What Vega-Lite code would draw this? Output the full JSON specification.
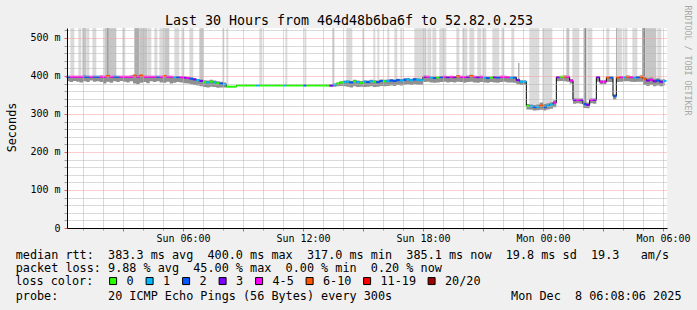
{
  "$schema": "https://vega.github.io/schema/vega-lite/v6.json",
  "width": 600,
  "height": 200,
  "autosize": {"type": "none"},
  "padding": {"left": 67, "top": 28, "right": 30, "bottom": 82},
  "background": "#f0f0f0",
  "config": {"view": {"fill": "white", "stroke": null}, "font": "DejaVu Sans Mono"},
  "resolve": {"axis": {"x": "independent", "y": "independent"}},
  "datasets": {
    "sp": [
      {"s":"2025-12-07T00:22","e":"2025-12-07T00:34","lo":396,"h":526,"k":"L"},
      {"s":"2025-12-07T00:46","e":"2025-12-07T00:55","lo":396,"h":526,"k":"L"},
      {"s":"2025-12-07T00:58","e":"2025-12-07T01:10","lo":396,"h":526,"k":"M"},
      {"s":"2025-12-07T01:10","e":"2025-12-07T01:19","lo":396,"h":526,"k":"L"},
      {"s":"2025-12-07T01:28","e":"2025-12-07T01:40","lo":396,"h":526,"k":"L"},
      {"s":"2025-12-07T02:04","e":"2025-12-07T02:40","lo":396,"h":526,"k":"M"},
      {"s":"2025-12-07T02:13","e":"2025-12-07T02:16","lo":385,"h":526,"k":"D"},
      {"s":"2025-12-07T02:58","e":"2025-12-07T03:07","lo":396,"h":526,"k":"L"},
      {"s":"2025-12-07T03:34","e":"2025-12-07T03:49","lo":390,"h":526,"k":"N"},
      {"s":"2025-12-07T03:49","e":"2025-12-07T04:13","lo":396,"h":526,"k":"M"},
      {"s":"2025-12-07T04:13","e":"2025-12-07T04:25","lo":396,"h":526,"k":"L"},
      {"s":"2025-12-07T04:34","e":"2025-12-07T04:43","lo":396,"h":526,"k":"L"},
      {"s":"2025-12-07T04:49","e":"2025-12-07T05:04","lo":396,"h":526,"k":"L"},
      {"s":"2025-12-07T05:04","e":"2025-12-07T05:19","lo":396,"h":526,"k":"M"},
      {"s":"2025-12-07T05:34","e":"2025-12-07T05:49","lo":396,"h":526,"k":"L"},
      {"s":"2025-12-07T05:55","e":"2025-12-07T06:04","lo":396,"h":526,"k":"L"},
      {"s":"2025-12-07T06:19","e":"2025-12-07T06:31","lo":392,"h":526,"k":"L"},
      {"s":"2025-12-07T06:49","e":"2025-12-07T07:01","lo":386,"h":526,"k":"M"},
      {"s":"2025-12-07T07:58","e":"2025-12-07T08:04","lo":380,"h":526,"k":"L"},
      {"s":"2025-12-07T08:10","e":"2025-12-07T08:16","lo":374,"h":526,"k":"L"},
      {"s":"2025-12-07T09:49","e":"2025-12-07T09:58","lo":376,"h":526,"k":"L"},
      {"s":"2025-12-07T11:07","e":"2025-12-07T11:13","lo":376,"h":526,"k":"L"},
      {"s":"2025-12-07T12:04","e":"2025-12-07T12:10","lo":376,"h":526,"k":"L"},
      {"s":"2025-12-07T13:28","e":"2025-12-07T13:34","lo":376,"h":526,"k":"M"},
      {"s":"2025-12-07T14:10","e":"2025-12-07T14:28","lo":385,"h":526,"k":"L"},
      {"s":"2025-12-07T14:58","e":"2025-12-07T15:04","lo":385,"h":526,"k":"L"},
      {"s":"2025-12-07T15:31","e":"2025-12-07T15:37","lo":385,"h":526,"k":"L"},
      {"s":"2025-12-07T15:43","e":"2025-12-07T15:49","lo":385,"h":526,"k":"L"},
      {"s":"2025-12-07T16:13","e":"2025-12-07T16:19","lo":388,"h":526,"k":"L"},
      {"s":"2025-12-07T16:34","e":"2025-12-07T16:43","lo":388,"h":526,"k":"L"},
      {"s":"2025-12-07T16:52","e":"2025-12-07T16:58","lo":388,"h":526,"k":"L"},
      {"s":"2025-12-07T17:34","e":"2025-12-07T18:04","lo":390,"h":526,"k":"L"},
      {"s":"2025-12-07T18:04","e":"2025-12-07T18:10","lo":396,"h":526,"k":"M"},
      {"s":"2025-12-07T18:13","e":"2025-12-07T18:25","lo":396,"h":526,"k":"L"},
      {"s":"2025-12-07T18:28","e":"2025-12-07T18:40","lo":396,"h":526,"k":"L"},
      {"s":"2025-12-07T18:49","e":"2025-12-07T19:10","lo":396,"h":526,"k":"L"},
      {"s":"2025-12-07T19:40","e":"2025-12-07T19:49","lo":396,"h":526,"k":"L"},
      {"s":"2025-12-07T19:58","e":"2025-12-07T20:13","lo":396,"h":526,"k":"L"},
      {"s":"2025-12-07T20:19","e":"2025-12-07T20:34","lo":396,"h":526,"k":"L"},
      {"s":"2025-12-07T20:43","e":"2025-12-07T20:55","lo":396,"h":526,"k":"L"},
      {"s":"2025-12-07T20:58","e":"2025-12-07T21:10","lo":396,"h":526,"k":"L"},
      {"s":"2025-12-07T21:28","e":"2025-12-07T21:49","lo":396,"h":526,"k":"L"},
      {"s":"2025-12-07T21:55","e":"2025-12-07T22:04","lo":396,"h":526,"k":"L"},
      {"s":"2025-12-07T22:25","e":"2025-12-07T22:34","lo":396,"h":526,"k":"L"},
      {"s":"2025-12-07T22:46","e":"2025-12-07T22:49","lo":392,"h":434,"k":"D"},
      {"s":"2025-12-07T23:19","e":"2025-12-07T23:49","lo":322,"h":526,"k":"L"},
      {"s":"2025-12-07T23:58","e":"2025-12-08T00:28","lo":322,"h":526,"k":"L"},
      {"s":"2025-12-08T01:10","e":"2025-12-08T01:19","lo":396,"h":526,"k":"M"},
      {"s":"2025-12-08T01:28","e":"2025-12-08T01:49","lo":337,"h":526,"k":"L"},
      {"s":"2025-12-08T02:04","e":"2025-12-08T02:10","lo":324,"h":526,"k":"D"},
      {"s":"2025-12-08T02:13","e":"2025-12-08T02:28","lo":337,"h":526,"k":"L"},
      {"s":"2025-12-08T03:10","e":"2025-12-08T03:19","lo":396,"h":526,"k":"L"},
      {"s":"2025-12-08T03:40","e":"2025-12-08T03:43","lo":396,"h":526,"k":"D"},
      {"s":"2025-12-08T03:43","e":"2025-12-08T03:58","lo":396,"h":526,"k":"L"},
      {"s":"2025-12-08T04:04","e":"2025-12-08T04:13","lo":396,"h":526,"k":"L"},
      {"s":"2025-12-08T04:28","e":"2025-12-08T04:43","lo":396,"h":526,"k":"L"},
      {"s":"2025-12-08T04:58","e":"2025-12-08T05:07","lo":390,"h":526,"k":"D"},
      {"s":"2025-12-08T05:07","e":"2025-12-08T05:40","lo":390,"h":526,"k":"M"},
      {"s":"2025-12-08T05:43","e":"2025-12-08T05:55","lo":390,"h":526,"k":"L"}
    ],
    "d": [
      {"t":"2025-12-07T00:15","m":398,"a":386,"b":400,"l":"2"},
      {"t":"2025-12-07T00:25","m":398,"a":384,"b":400,"l":"4-5"},
      {"t":"2025-12-07T00:35","m":398,"a":387,"b":400,"l":"4-5"},
      {"t":"2025-12-07T00:45","m":398,"a":385,"b":400,"l":"4-5"},
      {"t":"2025-12-07T00:55","m":398,"a":383,"b":400,"l":"4-5"},
      {"t":"2025-12-07T01:05","m":398,"a":386,"b":401,"l":"2"},
      {"t":"2025-12-07T01:15","m":398,"a":384,"b":400,"l":"2"},
      {"t":"2025-12-07T01:25","m":398,"a":388,"b":400,"l":"4-5"},
      {"t":"2025-12-07T01:35","m":398,"a":385,"b":400,"l":"2"},
      {"t":"2025-12-07T01:45","m":398,"a":386,"b":400,"l":"2"},
      {"t":"2025-12-07T01:55","m":398,"a":384,"b":401,"l":"4-5"},
      {"t":"2025-12-07T02:05","m":398,"a":380,"b":400,"l":"4-5"},
      {"t":"2025-12-07T02:15","m":400,"a":385,"b":403,"l":"6-10"},
      {"t":"2025-12-07T02:25","m":398,"a":382,"b":400,"l":"4-5"},
      {"t":"2025-12-07T02:35","m":398,"a":386,"b":400,"l":"2"},
      {"t":"2025-12-07T02:45","m":398,"a":384,"b":400,"l":"2"},
      {"t":"2025-12-07T02:55","m":398,"a":387,"b":400,"l":"4-5"},
      {"t":"2025-12-07T03:05","m":398,"a":385,"b":400,"l":"4-5"},
      {"t":"2025-12-07T03:15","m":398,"a":383,"b":400,"l":"4-5"},
      {"t":"2025-12-07T03:25","m":398,"a":386,"b":401,"l":"4-5"},
      {"t":"2025-12-07T03:35","m":401,"a":380,"b":403,"l":"6-10"},
      {"t":"2025-12-07T03:45","m":398,"a":378,"b":400,"l":"4-5"},
      {"t":"2025-12-07T03:55","m":401,"a":382,"b":404,"l":"6-10"},
      {"t":"2025-12-07T04:05","m":398,"a":384,"b":400,"l":"4-5"},
      {"t":"2025-12-07T04:15","m":398,"a":381,"b":400,"l":"4-5"},
      {"t":"2025-12-07T04:25","m":398,"a":386,"b":400,"l":"4-5"},
      {"t":"2025-12-07T04:35","m":398,"a":384,"b":400,"l":"4-5"},
      {"t":"2025-12-07T04:45","m":398,"a":386,"b":400,"l":"2"},
      {"t":"2025-12-07T04:55","m":398,"a":383,"b":400,"l":"4-5"},
      {"t":"2025-12-07T05:05","m":400,"a":382,"b":402,"l":"6-10"},
      {"t":"2025-12-07T05:15","m":398,"a":385,"b":400,"l":"4-5"},
      {"t":"2025-12-07T05:25","m":398,"a":380,"b":400,"l":"4-5"},
      {"t":"2025-12-07T05:35","m":397,"a":382,"b":400,"l":"1"},
      {"t":"2025-12-07T05:45","m":397,"a":384,"b":399,"l":"2"},
      {"t":"2025-12-07T05:55","m":397,"a":383,"b":399,"l":"4-5"},
      {"t":"2025-12-07T06:05","m":396,"a":381,"b":398,"l":"3"},
      {"t":"2025-12-07T06:15","m":395,"a":380,"b":397,"l":"4-5"},
      {"t":"2025-12-07T06:25","m":393,"a":378,"b":396,"l":"2"},
      {"t":"2025-12-07T06:35","m":391,"a":376,"b":394,"l":"3"},
      {"t":"2025-12-07T06:45","m":389,"a":375,"b":392,"l":"1"},
      {"t":"2025-12-07T06:55","m":387,"a":373,"b":391,"l":"3"},
      {"t":"2025-12-07T07:05","m":384,"a":371,"b":389,"l":"0"},
      {"t":"2025-12-07T07:15","m":383,"a":370,"b":388,"l":"1"},
      {"t":"2025-12-07T07:25","m":385,"a":372,"b":390,"l":"0"},
      {"t":"2025-12-07T07:35","m":383,"a":371,"b":388,"l":"1"},
      {"t":"2025-12-07T07:45","m":381,"a":369,"b":386,"l":"0"},
      {"t":"2025-12-07T07:55","m":380,"a":370,"b":385,"l":"2"},
      {"t":"2025-12-07T08:05","m":378,"a":370,"b":383,"l":"1"},
      {"t":"2025-12-07T08:15","m":372,"a":371,"b":373,"l":"0"},
      {"t":"2025-12-07T08:25","m":372,"a":371,"b":373,"l":"0"},
      {"t":"2025-12-07T08:35","m":372,"a":371,"b":373,"l":"0"},
      {"t":"2025-12-07T08:45","m":375,"a":374,"b":376,"l":"0"},
      {"t":"2025-12-07T08:55","m":375,"a":374,"b":376,"l":"0"},
      {"t":"2025-12-07T09:05","m":375,"a":374,"b":376,"l":"0"},
      {"t":"2025-12-07T09:15","m":375,"a":374,"b":376,"l":"0"},
      {"t":"2025-12-07T09:25","m":375,"a":374,"b":376,"l":"0"},
      {"t":"2025-12-07T09:35","m":375,"a":374,"b":376,"l":"0"},
      {"t":"2025-12-07T09:45","m":375,"a":374,"b":376,"l":"1"},
      {"t":"2025-12-07T09:55","m":375,"a":374,"b":376,"l":"0"},
      {"t":"2025-12-07T10:05","m":375,"a":374,"b":376,"l":"0"},
      {"t":"2025-12-07T10:15","m":375,"a":374,"b":376,"l":"0"},
      {"t":"2025-12-07T10:25","m":375,"a":374,"b":376,"l":"0"},
      {"t":"2025-12-07T10:35","m":375,"a":374,"b":376,"l":"0"},
      {"t":"2025-12-07T10:45","m":375,"a":374,"b":376,"l":"0"},
      {"t":"2025-12-07T10:55","m":375,"a":374,"b":376,"l":"0"},
      {"t":"2025-12-07T11:05","m":375,"a":374,"b":376,"l":"1"},
      {"t":"2025-12-07T11:15","m":375,"a":374,"b":376,"l":"0"},
      {"t":"2025-12-07T11:25","m":375,"a":374,"b":376,"l":"0"},
      {"t":"2025-12-07T11:35","m":375,"a":374,"b":376,"l":"0"},
      {"t":"2025-12-07T11:45","m":375,"a":374,"b":376,"l":"0"},
      {"t":"2025-12-07T11:55","m":375,"a":374,"b":376,"l":"0"},
      {"t":"2025-12-07T12:05","m":375,"a":374,"b":376,"l":"2"},
      {"t":"2025-12-07T12:15","m":375,"a":374,"b":376,"l":"0"},
      {"t":"2025-12-07T12:25","m":375,"a":374,"b":376,"l":"0"},
      {"t":"2025-12-07T12:35","m":375,"a":374,"b":376,"l":"0"},
      {"t":"2025-12-07T12:45","m":375,"a":374,"b":376,"l":"0"},
      {"t":"2025-12-07T12:55","m":375,"a":374,"b":376,"l":"0"},
      {"t":"2025-12-07T13:05","m":375,"a":374,"b":376,"l":"0"},
      {"t":"2025-12-07T13:15","m":375,"a":373,"b":377,"l":"0"},
      {"t":"2025-12-07T13:25","m":375,"a":372,"b":378,"l":"3"},
      {"t":"2025-12-07T13:35","m":377,"a":372,"b":380,"l":"1"},
      {"t":"2025-12-07T13:45","m":380,"a":373,"b":383,"l":"0"},
      {"t":"2025-12-07T13:55","m":383,"a":374,"b":386,"l":"0"},
      {"t":"2025-12-07T14:05","m":384,"a":373,"b":388,"l":"1"},
      {"t":"2025-12-07T14:15","m":385,"a":372,"b":389,"l":"1"},
      {"t":"2025-12-07T14:25","m":383,"a":370,"b":387,"l":"2"},
      {"t":"2025-12-07T14:35","m":386,"a":373,"b":390,"l":"0"},
      {"t":"2025-12-07T14:45","m":384,"a":371,"b":388,"l":"1"},
      {"t":"2025-12-07T14:55","m":382,"a":372,"b":387,"l":"0"},
      {"t":"2025-12-07T15:05","m":385,"a":371,"b":389,"l":"1"},
      {"t":"2025-12-07T15:15","m":384,"a":372,"b":388,"l":"2"},
      {"t":"2025-12-07T15:25","m":386,"a":373,"b":390,"l":"1"},
      {"t":"2025-12-07T15:35","m":385,"a":371,"b":389,"l":"0"},
      {"t":"2025-12-07T15:45","m":384,"a":372,"b":388,"l":"2"},
      {"t":"2025-12-07T15:55","m":387,"a":374,"b":391,"l":"2"},
      {"t":"2025-12-07T16:05","m":386,"a":373,"b":390,"l":"0"},
      {"t":"2025-12-07T16:15","m":387,"a":374,"b":391,"l":"1"},
      {"t":"2025-12-07T16:25","m":388,"a":375,"b":392,"l":"2"},
      {"t":"2025-12-07T16:35","m":387,"a":374,"b":391,"l":"2"},
      {"t":"2025-12-07T16:45","m":389,"a":376,"b":393,"l":"2"},
      {"t":"2025-12-07T16:55","m":388,"a":375,"b":392,"l":"1"},
      {"t":"2025-12-07T17:05","m":390,"a":377,"b":394,"l":"2"},
      {"t":"2025-12-07T17:15","m":391,"a":378,"b":395,"l":"1"},
      {"t":"2025-12-07T17:25","m":389,"a":376,"b":393,"l":"1"},
      {"t":"2025-12-07T17:35","m":391,"a":378,"b":395,"l":"2"},
      {"t":"2025-12-07T17:45","m":390,"a":377,"b":394,"l":"1"},
      {"t":"2025-12-07T17:55","m":389,"a":377,"b":393,"l":"1"},
      {"t":"2025-12-07T18:05","m":398,"a":384,"b":400,"l":"3"},
      {"t":"2025-12-07T18:15","m":398,"a":385,"b":400,"l":"4-5"},
      {"t":"2025-12-07T18:25","m":396,"a":383,"b":399,"l":"1"},
      {"t":"2025-12-07T18:35","m":395,"a":382,"b":398,"l":"2"},
      {"t":"2025-12-07T18:45","m":396,"a":383,"b":399,"l":"0"},
      {"t":"2025-12-07T18:55","m":397,"a":384,"b":400,"l":"2"},
      {"t":"2025-12-07T19:05","m":398,"a":385,"b":400,"l":"4-5"},
      {"t":"2025-12-07T19:15","m":397,"a":383,"b":400,"l":"3"},
      {"t":"2025-12-07T19:25","m":398,"a":384,"b":400,"l":"4-5"},
      {"t":"2025-12-07T19:35","m":397,"a":383,"b":400,"l":"3"},
      {"t":"2025-12-07T19:45","m":399,"a":385,"b":402,"l":"6-10"},
      {"t":"2025-12-07T19:55","m":398,"a":384,"b":400,"l":"4-5"},
      {"t":"2025-12-07T20:05","m":397,"a":382,"b":400,"l":"4-5"},
      {"t":"2025-12-07T20:15","m":398,"a":384,"b":400,"l":"3"},
      {"t":"2025-12-07T20:25","m":400,"a":385,"b":403,"l":"6-10"},
      {"t":"2025-12-07T20:35","m":398,"a":383,"b":400,"l":"4-5"},
      {"t":"2025-12-07T20:45","m":397,"a":382,"b":400,"l":"3"},
      {"t":"2025-12-07T20:55","m":398,"a":384,"b":400,"l":"4-5"},
      {"t":"2025-12-07T21:05","m":396,"a":383,"b":399,"l":"1"},
      {"t":"2025-12-07T21:15","m":395,"a":382,"b":398,"l":"2"},
      {"t":"2025-12-07T21:25","m":396,"a":384,"b":399,"l":"0"},
      {"t":"2025-12-07T21:35","m":397,"a":383,"b":400,"l":"3"},
      {"t":"2025-12-07T21:45","m":396,"a":382,"b":399,"l":"2"},
      {"t":"2025-12-07T21:55","m":398,"a":384,"b":400,"l":"4-5"},
      {"t":"2025-12-07T22:05","m":398,"a":385,"b":400,"l":"4-5"},
      {"t":"2025-12-07T22:15","m":397,"a":383,"b":400,"l":"4-5"},
      {"t":"2025-12-07T22:25","m":396,"a":383,"b":399,"l":"1"},
      {"t":"2025-12-07T22:35","m":396,"a":382,"b":399,"l":"2"},
      {"t":"2025-12-07T22:45","m":389,"a":378,"b":393,"l":"3"},
      {"t":"2025-12-07T22:55","m":385,"a":376,"b":389,"l":"1"},
      {"t":"2025-12-07T23:05","m":385,"a":377,"b":389,"l":"1"},
      {"t":"2025-12-07T23:15","m":321,"a":312,"b":326,"l":"0"},
      {"t":"2025-12-07T23:25","m":320,"a":311,"b":325,"l":"1"},
      {"t":"2025-12-07T23:35","m":318,"a":309,"b":324,"l":"2"},
      {"t":"2025-12-07T23:45","m":319,"a":310,"b":325,"l":"1"},
      {"t":"2025-12-07T23:55","m":322,"a":311,"b":330,"l":"6-10"},
      {"t":"2025-12-08T00:05","m":318,"a":309,"b":326,"l":"2"},
      {"t":"2025-12-08T00:15","m":322,"a":312,"b":328,"l":"1"},
      {"t":"2025-12-08T00:25","m":325,"a":314,"b":331,"l":"1"},
      {"t":"2025-12-08T00:35","m":330,"a":318,"b":336,"l":"4-5"},
      {"t":"2025-12-08T00:45","m":397,"a":386,"b":400,"l":"3"},
      {"t":"2025-12-08T00:55","m":398,"a":387,"b":400,"l":"0"},
      {"t":"2025-12-08T01:05","m":398,"a":386,"b":401,"l":"6-10"},
      {"t":"2025-12-08T01:15","m":398,"a":385,"b":400,"l":"4-5"},
      {"t":"2025-12-08T01:25","m":388,"a":380,"b":392,"l":"4-5"},
      {"t":"2025-12-08T01:35","m":337,"a":327,"b":341,"l":"3"},
      {"t":"2025-12-08T01:45","m":337,"a":328,"b":341,"l":"4-5"},
      {"t":"2025-12-08T01:55","m":337,"a":327,"b":341,"l":"3"},
      {"t":"2025-12-08T02:05","m":326,"a":316,"b":332,"l":"2"},
      {"t":"2025-12-08T02:15","m":324,"a":315,"b":330,"l":"3"},
      {"t":"2025-12-08T02:25","m":337,"a":328,"b":341,"l":"4-5"},
      {"t":"2025-12-08T02:35","m":337,"a":327,"b":341,"l":"3"},
      {"t":"2025-12-08T02:45","m":397,"a":385,"b":400,"l":"3"},
      {"t":"2025-12-08T02:55","m":385,"a":378,"b":389,"l":"4-5"},
      {"t":"2025-12-08T03:05","m":385,"a":378,"b":389,"l":"4-5"},
      {"t":"2025-12-08T03:15","m":396,"a":384,"b":399,"l":"6-10"},
      {"t":"2025-12-08T03:25","m":396,"a":384,"b":399,"l":"2"},
      {"t":"2025-12-08T03:35","m":347,"a":338,"b":352,"l":"2"},
      {"t":"2025-12-08T03:45","m":396,"a":384,"b":399,"l":"6-10"},
      {"t":"2025-12-08T03:55","m":397,"a":385,"b":400,"l":"4-5"},
      {"t":"2025-12-08T04:05","m":397,"a":386,"b":400,"l":"1"},
      {"t":"2025-12-08T04:15","m":398,"a":386,"b":401,"l":"6-10"},
      {"t":"2025-12-08T04:25","m":397,"a":385,"b":400,"l":"4-5"},
      {"t":"2025-12-08T04:35","m":396,"a":384,"b":399,"l":"1"},
      {"t":"2025-12-08T04:45","m":397,"a":385,"b":400,"l":"2"},
      {"t":"2025-12-08T04:55","m":398,"a":385,"b":401,"l":"6-10"},
      {"t":"2025-12-08T05:05","m":392,"a":376,"b":398,"l":"6-10"},
      {"t":"2025-12-08T05:15","m":388,"a":374,"b":395,"l":"3"},
      {"t":"2025-12-08T05:25","m":390,"a":376,"b":396,"l":"4-5"},
      {"t":"2025-12-08T05:35","m":386,"a":373,"b":393,"l":"3"},
      {"t":"2025-12-08T05:45","m":388,"a":375,"b":394,"l":"2"},
      {"t":"2025-12-08T05:55","m":385,"a":373,"b":391,"l":"3"},
      {"t":"2025-12-08T06:05","m":387,"a":375,"b":392,"l":"1"}
    ]
  },
  "layer": [
    {
      "data": {"name": "sp"},
      "mark": {"type": "rect"},
      "encoding": {
        "x": {
          "field": "s", "type": "temporal",
          "scale": {"domain": [{"year": 2025, "month": 12, "date": 7, "hours": 0, "minutes": 12}, {"year": 2025, "month": 12, "date": 8, "hours": 6, "minutes": 12}], "nice": false},
          "axis": {
            "orient": "bottom", "zindex": 1, "grid": true, "gridColor": "#b4b4b4", "gridDash": [1, 1], "gridWidth": 1,
            "values": [{"year": 2025, "month": 12, "date": 7, "hours": 1}, {"year": 2025, "month": 12, "date": 7, "hours": 2}, {"year": 2025, "month": 12, "date": 7, "hours": 4}, {"year": 2025, "month": 12, "date": 7, "hours": 5}, {"year": 2025, "month": 12, "date": 7, "hours": 7}, {"year": 2025, "month": 12, "date": 7, "hours": 8}, {"year": 2025, "month": 12, "date": 7, "hours": 10}, {"year": 2025, "month": 12, "date": 7, "hours": 11}, {"year": 2025, "month": 12, "date": 7, "hours": 13}, {"year": 2025, "month": 12, "date": 7, "hours": 14}, {"year": 2025, "month": 12, "date": 7, "hours": 16}, {"year": 2025, "month": 12, "date": 7, "hours": 17}, {"year": 2025, "month": 12, "date": 7, "hours": 19}, {"year": 2025, "month": 12, "date": 7, "hours": 20}, {"year": 2025, "month": 12, "date": 7, "hours": 22}, {"year": 2025, "month": 12, "date": 7, "hours": 23}, {"year": 2025, "month": 12, "date": 8, "hours": 1}, {"year": 2025, "month": 12, "date": 8, "hours": 2}, {"year": 2025, "month": 12, "date": 8, "hours": 4}, {"year": 2025, "month": 12, "date": 8, "hours": 5}],
            "labels": false, "ticks": true, "tickColor": "#a0a0a0", "tickSize": 2, "domain": false,
            "title": ["median\u00a0rtt:\u00a0\u00a0383.3\u00a0ms\u00a0avg\u00a0\u00a0400.0\u00a0ms\u00a0max\u00a0\u00a0317.0\u00a0ms\u00a0min\u00a0\u00a0385.1\u00a0ms\u00a0now\u00a0\u00a019.8\u00a0ms\u00a0sd\u00a0\u00a019.3\u00a0\u00a0\u00a0am/s", "packet\u00a0loss:\u00a09.88\u00a0%\u00a0avg\u00a0\u00a045.00\u00a0%\u00a0max\u00a0\u00a00.00\u00a0%\u00a0min\u00a0\u00a00.20\u00a0%\u00a0now"],
            "titleFont": "DejaVu Sans Mono", "titleFontSize": 11.8, "titleFontWeight": "normal", "titleColor": "black",
            "titleAlign": "left", "titleBaseline": "alphabetic", "titleX": -51.8, "titleY": 30.3, "titleLineHeight": 13.4
          }
        },
        "x2": {"field": "e"},
        "y": {
          "field": "lo", "type": "quantitative",
          "scale": {"domain": [0, 526.3], "nice": false, "zero": true},
          "axis": {
            "orient": "left", "zindex": 1, "grid": true, "gridColor": "#b4b4b4", "gridDash": [1, 1],
            "values": [20, 40, 60, 80, 120, 140, 160, 180, 220, 240, 260, 280, 320, 340, 360, 380, 420, 440, 460, 480, 520],
            "labels": false, "ticks": true, "tickColor": "#a0a0a0", "tickSize": 3, "domain": false,
            "title": "Mon\u00a0Dec\u00a0\u00a08\u00a006:08:06\u00a02025", "titleAngle": 0, "titleAlign": "right", "titleBaseline": "alphabetic",
            "titleX": 614, "titleY": 271, "titleFont": "DejaVu Sans Mono", "titleFontSize": 11.8, "titleFontWeight": "normal", "titleColor": "black"
          }
        },
        "y2": {"field": "h"},
        "fill": {
          "field": "k", "type": "nominal",
          "scale": {"domain": ["L", "M", "N", "D"], "range": ["#dadada", "#c6c6c6", "#adadad", "#8a8a8a"]},
          "legend": null
        }
      }
    },
    {
      "data": {"name": "d"},
      "mark": {"type": "area", "interpolate": "step", "color": "#909090", "opacity": 1},
      "encoding": {
        "x": {
          "field": "t", "type": "temporal",
          "scale": {"domain": [{"year": 2025, "month": 12, "date": 7, "hours": 0, "minutes": 12}, {"year": 2025, "month": 12, "date": 8, "hours": 6, "minutes": 12}], "nice": false},
          "axis": {
            "orient": "bottom", "zindex": 1, "grid": true, "gridColor": "#f09c9c", "gridDash": [1, 1], "gridWidth": 1,
            "values": [{"year": 2025, "month": 12, "date": 7, "hours": 3}, {"year": 2025, "month": 12, "date": 7, "hours": 6}, {"year": 2025, "month": 12, "date": 7, "hours": 9}, {"year": 2025, "month": 12, "date": 7, "hours": 12}, {"year": 2025, "month": 12, "date": 7, "hours": 15}, {"year": 2025, "month": 12, "date": 7, "hours": 18}, {"year": 2025, "month": 12, "date": 7, "hours": 21}, {"year": 2025, "month": 12, "date": 8, "hours": 0}, {"year": 2025, "month": 12, "date": 8, "hours": 3}, {"year": 2025, "month": 12, "date": 8, "hours": 6}],
            "labels": false, "ticks": true, "tickColor": "#e06060", "tickSize": 3, "domain": false,
            "title": "probe:\u00a0\u00a0\u00a0\u00a0\u00a0\u00a0\u00a020\u00a0ICMP\u00a0Echo\u00a0Pings\u00a0(56\u00a0Bytes)\u00a0every\u00a0300s",
            "titleFont": "DejaVu Sans Mono", "titleFontSize": 11.8, "titleFontWeight": "normal", "titleColor": "black",
            "titleAlign": "left", "titleBaseline": "alphabetic", "titleX": -51.8, "titleY": 71
          }
        },
        "y": {
          "field": "a", "type": "quantitative",
          "scale": {"domain": [0, 526.3], "nice": false, "zero": true},
          "axis": {
            "orient": "left", "zindex": 1, "grid": true, "gridColor": "#f09c9c", "gridDash": [1, 1],
            "values": [0, 100, 200, 300, 400, 500],
            "labelExpr": "datum.value == 0 ? '0' : datum.value + ' m'",
            "labelFont": "DejaVu Sans Mono", "labelFontSize": 10, "labelColor": "black", "labelPadding": 4,
            "ticks": true, "tickColor": "#e06060", "tickSize": 3, "domain": true, "domainColor": "black", "domainWidth": 1,
            "title": "Seconds", "titleAngle": 270, "titleAlign": "center", "titleBaseline": "alphabetic",
            "titleX": -52, "titleY": 99, "titleFont": "DejaVu Sans Mono", "titleFontSize": 11.8, "titleFontWeight": "normal", "titleColor": "black"
          }
        },
        "y2": {"field": "b"}
      }
    },
    {
      "data": {"name": "d"},
      "mark": {"type": "line", "interpolate": "step", "color": "black", "strokeWidth": 1},
      "encoding": {
        "x": {
          "field": "t", "type": "temporal",
          "scale": {"domain": [{"year": 2025, "month": 12, "date": 7, "hours": 0, "minutes": 12}, {"year": 2025, "month": 12, "date": 8, "hours": 6, "minutes": 12}], "nice": false},
          "axis": {
            "orient": "bottom", "zindex": 2, "grid": false,
            "values": [{"year": 2025, "month": 12, "date": 7, "hours": 6}, {"year": 2025, "month": 12, "date": 7, "hours": 12}, {"year": 2025, "month": 12, "date": 7, "hours": 18}, {"year": 2025, "month": 12, "date": 8, "hours": 0}, {"year": 2025, "month": 12, "date": 8, "hours": 6}],
            "format": "%a %H:%M",
            "labelFont": "DejaVu Sans Mono", "labelFontSize": 10, "labelColor": "black", "labelPadding": 13.5, "labelBaseline": "alphabetic",
            "labelFlush": false, "labelOverlap": false,
            "ticks": false, "tickSize": 0, "domain": true, "domainColor": "black", "domainWidth": 1, "title": null
          }
        },
        "y": {
          "field": "m", "type": "quantitative",
          "scale": {"domain": [0, 526.3], "nice": false, "zero": true},
          "axis": {
            "orient": "right", "grid": false, "labels": false, "ticks": false, "domain": false,
            "title": "RRDTOOL / TOBI OETIKER", "titleAngle": 90, "titleAlign": "center", "titleBaseline": "alphabetic",
            "titleX": 17.7, "titleY": 32, "titleFont": "DejaVu Sans Mono", "titleFontSize": 8.3, "titleFontWeight": "normal", "titleColor": "#a8a8a8"
          }
        }
      }
    },
    {
      "data": {"name": "d"},
      "mark": {"type": "tick", "orient": "horizontal", "size": 3.6, "thickness": 2, "opacity": 1},
      "encoding": {
        "x": {
          "field": "t", "type": "temporal",
          "scale": {"domain": [{"year": 2025, "month": 12, "date": 7, "hours": 0, "minutes": 12}, {"year": 2025, "month": 12, "date": 8, "hours": 6, "minutes": 12}], "nice": false},
          "axis": {
            "orient": "top", "grid": false, "labels": false, "ticks": false, "domain": false,
            "title": "Last 30 Hours from 464d48b6ba6f to 52.82.0.253",
            "titleFont": "DejaVu Sans Mono", "titleFontSize": 13.3, "titleFontWeight": "normal", "titleColor": "black",
            "titleAlign": "center", "titleBaseline": "alphabetic", "titleX": 281.5, "titleY": -4
          }
        },
        "y": {
          "field": "m", "type": "quantitative",
          "scale": {"domain": [0, 526.3], "nice": false, "zero": true},
          "axis": null
        },
        "color": {
          "field": "l", "type": "nominal",
          "scale": {"domain": ["0", "1", "2", "3", "4-5", "6-10", "11-19", "20/20"], "range": ["#26ff00", "#00b8ff", "#0059ff", "#7e00ff", "#ff00ff", "#ff5500", "#ff0000", "#a10000"]},
          "legend": {
            "title": "loss color:", "orient": "none", "legendX": -51.8, "legendY": 247,
            "direction": "horizontal", "columns": 8, "titleOrient": "left", "titleBaseline": "middle",
            "titleFont": "DejaVu Sans Mono", "titleFontSize": 11.8, "titleFontWeight": "normal", "titleColor": "black", "titlePadding": 13,
            "labelFont": "DejaVu Sans Mono", "labelFontSize": 11.8, "labelColor": "black", "labelOffset": 7.5,
            "symbolType": "square", "symbolSize": 49, "symbolStrokeColor": "black", "symbolStrokeWidth": 1, "symbolOpacity": 1, "columnPadding": 9.5, "padding": 0
          }
        }
      }
    }
  ]
}
